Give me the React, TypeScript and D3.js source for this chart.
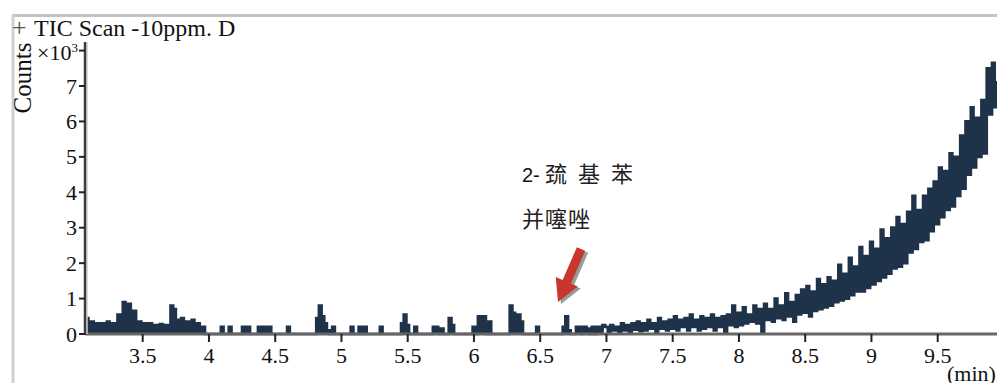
import React from "react";
import * as d3 from "d3";

// Sampling grid of the TIC trace (minutes)
const T_START = 3.08;
const T_STEP = 0.02;

// Counts (×10³), 3.08–3.98 min
const earlyCounts = [
  0.45, 0.15, 0.35, 0.1, 0.3, 0.05, 0.3, 0.1, 0.35, 0.12,
  0.3, 0.15, 0.55, 0.3, 0.9, 0.5, 0.85, 0.3, 0.65, 0.2,
  0.35, 0.1, 0.3, 0.12, 0.3, 0.1, 0.25, 0.05, 0.28, 0.12,
  0.25, 0.1, 0.8, 0.7, 0.4, 0.2, 0.45, 0.15, 0.35, 0.1,
  0.4, 0.15, 0.3, 0.05, 0.2, 0,
];

// Counts (×10³), 4.00–6.98 min
const quietCounts = [
  0, 0, 0, 0, 0, 0.2, 0, 0, 0.2, 0,
  0, 0, 0, 0.2, 0, 0.2, 0, 0, 0, 0.2,
  0, 0.2, 0, 0.2, 0, 0, 0, 0, 0, 0,
  0.2, 0, 0, 0, 0, 0, 0, 0, 0, 0,
  0, 0.45, 0.8, 0.5, 0.3, 0.1, 0, 0.2, 0, 0,
  0, 0, 0, 0, 0.2, 0, 0, 0.2, 0, 0.2,
  0, 0, 0, 0, 0, 0.2, 0, 0, 0, 0,
  0, 0, 0, 0.3, 0.55, 0.25, 0, 0, 0.2, 0,
  0, 0, 0, 0, 0, 0.2, 0.2, 0, 0.15, 0,
  0, 0.45, 0.25, 0, 0, 0, 0, 0, 0, 0,
  0.2, 0, 0.5, 0.15, 0.5, 0, 0.35, 0, 0, 0,
  0, 0, 0, 0, 0.8, 0.6, 0.45, 0.55, 0.35, 0,
  0, 0, 0, 0, 0.2, 0, 0, 0, 0, 0,
  0, 0, 0, 0, 0.2, 0.5, 0.1, 0, 0, 0.2,
  0.2, 0, 0.2, 0.15, 0, 0.2, 0, 0.2, 0.15, 0.25,
];

// Counts (×10³), 7.00–9.96 min
const riseCounts = [
  0.2, 0.05, 0.25, 0.1, 0.2, 0.05, 0.3, 0.1, 0.25, 0.05,
  0.3, 0.12, 0.35, 0.08, 0.3, 0.1, 0.4, 0.15, 0.3, 0.05,
  0.45, 0.15, 0.35, 0.1, 0.4,
  0.15, 0.5, 0.1, 0.4, 0.2, 0.45, 0.1, 0.55, 0.2, 0.4,
  0.1, 0.5, 0.15, 0.45, 0.2, 0.55, 0.1, 0.45, 0.2, 0.5,
  0.05, 0.55, 0.25, 0.8, 0.2,
  0.6, 0.25, 0.75, 0.3, 0.55, 0.35, 0.8, 0.3, 0.7, 0.05,
  0.85, 0.4, 0.7, 0.35, 1.0, 0.45, 0.8, 0.4, 1.15, 0.5,
  0.9, 0.35, 1.1, 0.55, 1.25,
  0.6, 1.35, 0.5, 1.2, 0.65, 1.55, 0.7, 1.4, 0.75, 1.6,
  0.8, 1.5, 0.9, 1.95, 0.95, 1.7, 1.0, 2.15, 1.1, 1.9,
  1.2, 2.45, 1.2, 2.2, 1.3,
  2.6, 1.4, 2.4, 1.5, 2.95, 1.6, 2.7, 1.7, 3.0, 1.85,
  3.3, 1.9, 3.1, 2.0, 3.45, 2.3, 3.9, 2.4, 3.5, 2.6,
  3.9, 2.65, 4.1, 2.9, 4.3,
  3.1, 4.7, 3.3, 4.6, 3.5, 5.1, 3.6, 5.0, 3.9, 5.6,
  4.1, 6.0, 4.5, 6.4, 4.7, 6.1, 5.0, 6.6, 5.1, 7.5,
  6.2, 7.65, 6.4, 7.1,
];

const xTicks = [3.5, 4, 4.5, 5, 5.5, 6, 6.5, 7, 7.5, 8, 8.5, 9, 9.5];
const yTicks = [0, 1, 2, 3, 4, 5, 6, 7];
const yTopTick = 8;

const titleMark = "+";
const titleText = "TIC Scan -10ppm. D";
const noteLine1 = ["2-", "巯", "基", "苯"];
const noteLine2 = "并噻唑";

const W = 997;
const H = 383;
const SERIF = "'Liberation Serif', 'Times New Roman', 'DejaVu Serif', serif";
const CJK = "'Noto Sans CJK SC', sans-serif";
const NAVY = "#1e3349";

const serif = (size: number) => ({ fontFamily: SERIF, fontSize: size });

type Pt = { t: number; c: number };

export default function App() {
  const counts = [...earlyCounts, ...quietCounts, ...riseCounts];
  const points: Pt[] = counts.map((c, i) => ({ t: T_START + i * T_STEP, c }));
  // isolated peaks before the baseline starts to climb are drawn solid
  const peakPoints = points.slice(0, earlyCounts.length + quietCounts.length);

  const x = d3.scaleLinear().domain([3.5, 9.5]).range([142.7, 937.7]);
  const y = d3.scaleLinear().domain([0, 7]).range([334, 86]);

  const axisX = 85;
  const axisY = 334;

  const trace = d3
    .line<Pt>()
    .x((d) => x(d.t))
    .y((d) => y(d.c))
    .curve(d3.curveStep)(points) as string;

  const peakFill = d3
    .area<Pt>()
    .x((d) => x(d.t))
    .y0(y(0))
    .y1((d) => y(d.c))
    .curve(d3.curveStep)(peakPoints) as string;

  // Red arrow pointing at the labelled compound
  const tail = [581, 249];
  const tip = [558, 302];
  const dx = tip[0] - tail[0];
  const dy = tip[1] - tail[1];
  const len = Math.hypot(dx, dy);
  const ux = dx / len, uy = dy / len;
  const nx = -uy, ny = ux;
  const shaftW = 4.5, headW = 12, headL = 22;
  const bx = tip[0] - ux * headL, by = tip[1] - uy * headL;
  const arrowPts = [
    [tail[0] + nx * shaftW, tail[1] + ny * shaftW],
    [bx + nx * shaftW, by + ny * shaftW],
    [bx + nx * headW, by + ny * headW],
    [tip[0], tip[1]],
    [bx - nx * headW, by - ny * headW],
    [bx - nx * shaftW, by - ny * shaftW],
    [tail[0] - nx * shaftW, tail[1] - ny * shaftW],
  ];
  const arrowPath = "M" + arrowPts.map((p) => p.join(",")).join("L") + "Z";

  return (
    <svg
      width={W}
      height={H}
      style={{ position: "absolute", left: 0, top: 0, background: "#fff" }}
    >
      <defs>
        <clipPath id="plotClip">
          <rect x={axisX + 1} y={20} width={W - axisX} height={axisY - 18} />
        </clipPath>
      </defs>

      {/* frame */}
      <line x1={12} x2={W} y1={15.5} y2={15.5} stroke="#c4c4c4" strokeWidth={3} />
      <line x1={13} x2={13} y1={15} y2={H} stroke="#d0d0d0" strokeWidth={3} />

      {/* title */}
      <text x={12} y={36} style={serif(26)} fill="#5e5040">
        {titleMark}
      </text>
      <text x={34} y={36} style={serif(24)} fill="#111">
        {titleText}
      </text>

      {/* trace */}
      <g clipPath="url(#plotClip)">
        <path d={peakFill} fill={NAVY} stroke="none" />
        <path d={trace} fill="none" stroke={NAVY} strokeWidth={2.7} strokeLinejoin="miter" />
      </g>

      {/* x axis */}
      <line x1={axisX} x2={W} y1={axisY} y2={axisY} stroke="#666" strokeWidth={3} />
      {xTicks.map((t) => (
        <g key={t}>
          <line x1={x(t)} x2={x(t)} y1={axisY} y2={axisY + 8} stroke="#222" strokeWidth={2} />
          <text x={x(t)} y={363} textAnchor="middle" style={serif(22)} fill="#111">
            {t}
          </text>
        </g>
      ))}
      <text x={947} y={381} style={serif(22)} fill="#111">
        (min)
      </text>

      {/* y axis */}
      <line x1={axisX + 2} x2={axisX + 2} y1={42} y2={axisY} stroke="#cfcfcf" strokeWidth={1.5} />
      <line x1={axisX} x2={axisX} y1={42} y2={axisY + 1} stroke="#3c3c3c" strokeWidth={2.5} />
      {[...yTicks, yTopTick].map((v) => (
        <line key={v} x1={axisX - 6} x2={axisX} y1={y(v)} y2={y(v)} stroke="#222" strokeWidth={2} />
      ))}
      {yTicks.map((v) => (
        <text key={v} x={77} y={y(v) + 7.5} textAnchor="end" style={serif(22)} fill="#111">
          {v}
        </text>
      ))}
      <text x={37} y={y(yTopTick) + 9} style={serif(22)} fill="#111">
        ×10
        <tspan fontSize={13} dy={-8}>
          3
        </tspan>
      </text>
      <text transform="translate(31,78) rotate(-90)" textAnchor="middle" style={serif(25)} fill="#111">
        Counts
      </text>

      {/* annotation */}
      <text x={522} y={182} style={{ fontFamily: "'Liberation Sans', sans-serif", fontSize: 20 }} fill="#111">
        {noteLine1[0]}
      </text>
      {noteLine1.slice(1).map((ch, i) => (
        <text key={ch} x={545 + i * 33} y={182} style={{ fontFamily: CJK, fontSize: 22 }} fill="#222">
          {ch}
        </text>
      ))}
      <text x={522} y={227} style={{ fontFamily: CJK, fontSize: 22, letterSpacing: 1 }} fill="#222">
        {noteLine2}
      </text>
      <path d={arrowPath} fill="#9a9a9a" transform="translate(3,2)" />
      <path d={arrowPath} fill="#c9362c" />
    </svg>
  );
}
